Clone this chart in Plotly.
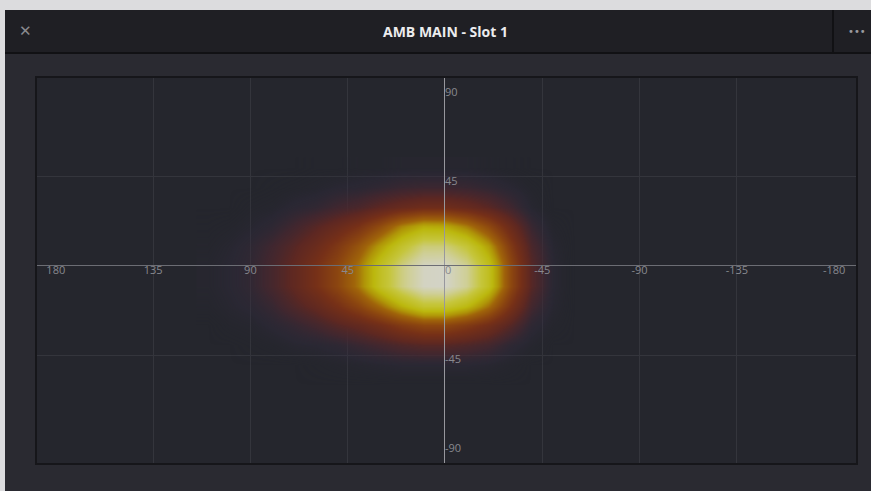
import plotly.graph_objects as go

# ---- data (degrees) ----
azimuth = [110, 100, 90, 80, 70, 60, 50, 40, 30, 20, 10, 0, -10, -20, -30, -40, -50, -60]
elevation = [50, 40, 30, 20, 10, 0, -10, -20, -30, -40, -50, -60]
intensity = [
    [0, 0, 0, 0, 0, .01, .01, .02, .02, .03, .03, .03, .03, .02, .01, 0, 0, 0],
    [0, 0, 0, .01, .02, .03, .05, .06, .08, .10, .11, .11, .10, .08, .05, .02, 0, 0],
    [0, 0, .02, .03, .06, .08, .12, .15, .20, .24, .27, .27, .24, .19, .12, .04, 0, 0],
    [.01, .02, .04, .07, .12, .18, .24, .31, .42, .55, .63, .62, .54, .41, .25, .10, .02, 0],
    [.02, .04, .07, .12, .18, .25, .34, .45, .60, .74, .86, .86, .77, .60, .35, .15, .04, 0],
    [.03, .05, .08, .14, .21, .30, .40, .53, .72, .87, .98, .99, .90, .71, .41, .18, .05, 0],
    [.03, .05, .08, .14, .21, .30, .40, .53, .72, .87, .98, .99, .90, .71, .41, .18, .05, 0],
    [.02, .04, .06, .10, .16, .22, .30, .39, .51, .64, .75, .75, .67, .52, .31, .13, .04, 0],
    [0, .02, .03, .06, .09, .13, .18, .22, .28, .35, .40, .40, .35, .28, .18, .07, .02, 0],
    [0, 0, .01, .02, .04, .05, .07, .10, .13, .16, .18, .18, .16, .13, .07, .03, 0, 0],
    [0, 0, 0, 0, 0, .01, .02, .03, .04, .05, .05, .05, .05, .04, .02, 0, 0, 0],
    [0, 0, 0, 0, 0, 0, 0, 0, 0, 0, 0, 0, 0, 0, 0, 0, 0, 0],
]

x_tick_vals = [180, 135, 90, 45, -45, -90, -135, -180]
x_tick_text = ["180", "135", "90", "45", "-45", "-90", "-135", "-180"]
y_tick_vals = [90, 45, 0, -45, -90]
y_tick_text = ["90", "45", "0", "-45", "-90"]
grid_x = [135, 90, 45, 0, -45, -90, -135]
grid_y = [45, 0, -45]

title_text = "AMB MAIN - Slot 1"

# ---- layout geometry ----
W, H = 871, 491
L, R, T, B = 37, 856, 78, 463


def px(x):
    return (x - L) / (R - L)


def py(y):
    return (B - y) / (B - T)


colorscale = [
    [0.0, "rgba(38,39,46,0)"],
    [0.05, "rgba(52,44,64,0.35)"],
    [0.12, "rgba(74,40,48,0.75)"],
    [0.20, "rgb(94,40,34)"],
    [0.30, "rgb(118,48,24)"],
    [0.40, "rgb(140,70,16)"],
    [0.50, "rgb(160,100,10)"],
    [0.58, "rgb(176,150,8)"],
    [0.66, "rgb(188,184,14)"],
    [0.78, "rgb(198,198,60)"],
    [0.90, "rgb(207,207,150)"],
    [1.0, "rgb(212,212,205)"],
]

fig = go.Figure()
fig.add_trace(go.Heatmap(
    x=azimuth, y=elevation, z=intensity,
    zmin=0, zmax=1, zsmooth="best",
    colorscale=colorscale, showscale=False, hoverinfo="skip",
))

label_font = dict(family="Open Sans", size=11, color="#88898f")
fig.add_trace(go.Scatter(
    x=x_tick_vals, y=[0] * len(x_tick_vals), text=x_tick_text,
    mode="text", textposition="bottom center", textfont=label_font,
    cliponaxis=False, hoverinfo="skip", showlegend=False,
))
fig.add_trace(go.Scatter(
    x=[0] * len(y_tick_vals), y=y_tick_vals, text=y_tick_text,
    mode="text", textposition="bottom right", textfont=label_font,
    cliponaxis=False, hoverinfo="skip", showlegend=False,
))

fig.update_layout(
    width=W, height=H, autosize=False,
    margin=dict(l=L, r=W - R, t=T, b=H - B, pad=0),
    paper_bgcolor="#2a2a31",
    plot_bgcolor="#25262d",
    showlegend=False,
    font=dict(family="Open Sans", color="#88898f"),
)

fig.update_xaxes(
    range=[188.7, -190.1], tickmode="array", tickvals=grid_x,
    showticklabels=False, ticks="",
    showgrid=True, gridcolor="#34353c", gridwidth=1,
    zeroline=True, zerolinecolor="#97979d", zerolinewidth=1,
    showline=True, mirror=True, linecolor="#16161a", linewidth=2,
    fixedrange=True,
)
fig.update_yaxes(
    range=[-99.5, 94.9], tickmode="array", tickvals=grid_y,
    showticklabels=False, ticks="",
    showgrid=True, gridcolor="#34353c", gridwidth=1,
    zeroline=True, zerolinecolor="#6c6d74", zerolinewidth=1,
    showline=True, mirror=True, linecolor="#16161a", linewidth=2,
    fixedrange=True,
)
try:
    fig.update_xaxes(zerolinelayer="above traces")
    fig.update_yaxes(zerolinelayer="above traces")
except Exception:
    pass

shapes = [
    # window frame strips
    dict(type="rect", xref="paper", yref="paper", x0=px(0), x1=px(W), y0=py(0), y1=py(10),
         fillcolor="#dcdcde", line=dict(width=0)),
    dict(type="rect", xref="paper", yref="paper", x0=px(0), x1=px(5), y0=py(0), y1=py(H),
         fillcolor="#dcdcde", line=dict(width=0)),
    # header bar
    dict(type="rect", xref="paper", yref="paper", x0=px(5), x1=px(W), y0=py(10), y1=py(53),
         fillcolor="#1f1f24", line=dict(width=0)),
    dict(type="line", xref="paper", yref="paper", x0=px(5), x1=px(W), y0=py(53), y1=py(53),
         line=dict(color="#111114", width=2)),
    dict(type="line", xref="paper", yref="paper", x0=px(833), x1=px(833), y0=py(10), y1=py(53),
         line=dict(color="#111114", width=2)),
]
fig.update_layout(shapes=shapes)

annotations = [
    dict(text=title_text, x=px(445), y=py(31), xref="paper", yref="paper",
         xanchor="center", yanchor="middle", showarrow=False,
         font=dict(family="Open Sans", size=14, color="#ececee", weight="bold")),
    dict(text="\u2715", x=px(25), y=py(31), xref="paper", yref="paper",
         xanchor="center", yanchor="middle", showarrow=False,
         font=dict(family="DejaVu Sans", size=15, color="#8a8a8e")),
    dict(text="\u2022\u2022\u2022", x=px(846), y=py(32), xref="paper", yref="paper",
         xanchor="left", yanchor="middle", showarrow=False,
         font=dict(family="DejaVu Sans", size=10, color="#9a9a9e")),
]
fig.update_layout(annotations=annotations)

fig.write_html(
    "out.html",
    config={"displayModeBar": False, "staticPlot": True},
    post_script="document.body.style.margin='0';document.body.style.padding='0';"
                "document.documentElement.style.overflow='hidden';",
)
